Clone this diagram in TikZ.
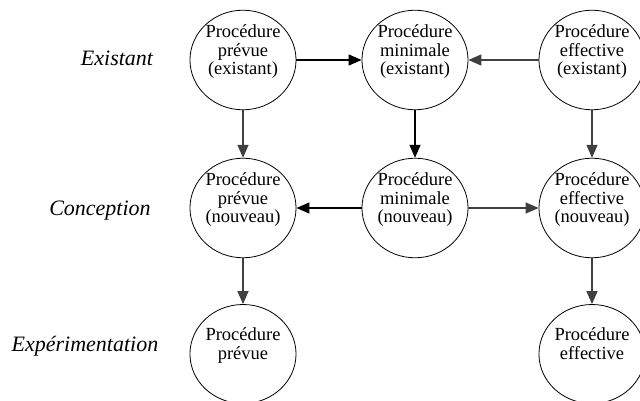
\documentclass[tikz,border=0pt]{standalone}
\usepackage{fontspec}
\setmainfont{Liberation Serif}
\usetikzlibrary{shapes.geometric,arrows.meta}

\definecolor{darkgrey}{RGB}{64,64,64}

\begin{document}
\begin{tikzpicture}[x=1pt,y=-1pt,
    proc/.style={draw,thick,ellipse,minimum width=105pt,minimum height=99pt,
      inner sep=0pt,align=center,font=\fontsize{18.5}{18.5}\selectfont},
    phase/.style={font=\fontsize{22}{22}\selectfont\itshape},
    blk/.style={line width=1.4pt,-{Triangle[length=13pt,width=11pt]}},
    gry/.style={line width=1.4pt,darkgrey,-{Triangle[length=13pt,width=11pt]}}]
    \useasboundingbox (0,0) rectangle (640,401);
    % phases
    \node[phase] (lex) at (117,58) {Existant};
    \node[phase] (lco) at (100,211) {Conception};
    \node[phase] (lxp) at (85,346) {Expérimentation};
    % existant
    \node[proc] (pe) at (243,60) {Procédure\\prévue\\(existant)\\[-3.5pt]\strut};
    \node[proc] (me) at (415,60) {Procédure\\minimale\\(existant)\\[-3.5pt]\strut};
    \node[proc] (ee) at (592,60) {Procédure\\effective\\(existant)\\[-3.5pt]\strut};
    % nouveau
    \node[proc] (pn) at (243,208) {Procédure\\prévue\\(nouveau)\\[-3.5pt]\strut};
    \node[proc] (mn) at (415,208) {Procédure\\minimale\\(nouveau)\\[-3.5pt]\strut};
    \node[proc] (en) at (592,208) {Procédure\\effective\\(nouveau)\\[-3.5pt]\strut};
    % experimentation
    \node[proc] (px) at (243,354) {Procédure\\prévue\\[-3.5pt]\strut};
    \node[proc] (ex) at (592,354) {Procédure\\effective\\[-3.5pt]\strut};
    % connectors
    \draw[blk] (pe) -- (me);
    \draw[gry] (ee) -- (me);
    \draw[gry] (pe) -- (pn);
    \draw[blk] (me) -- (mn);
    \draw[gry] (ee) -- (en);
    \draw[blk] (mn) -- (pn);
    \draw[gry] (mn) -- (en);
    \draw[gry] (pn) -- (px);
    \draw[gry] (en) -- (ex);
\end{tikzpicture}
\end{document}
